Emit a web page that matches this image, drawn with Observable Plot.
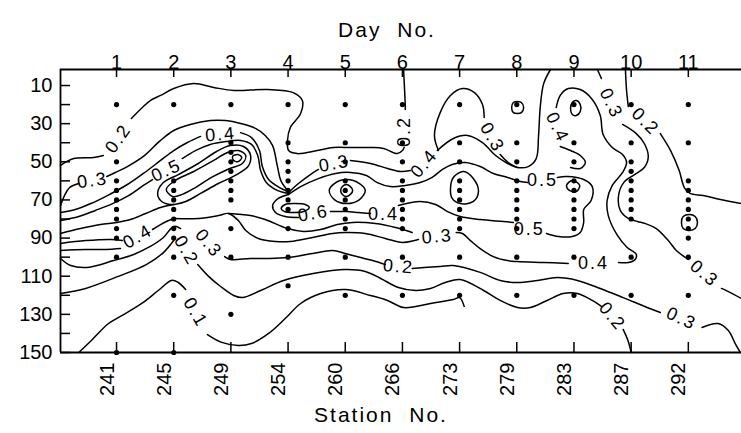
<!DOCTYPE html>
<html><head><meta charset="utf-8">
<script src="https://cdn.jsdelivr.net/npm/d3@7"></script>
<script src="https://cdn.jsdelivr.net/npm/@observablehq/plot@0.6"></script>
<style>
body{margin:0;background:#fff;}
svg text{font-family:"Liberation Sans",Arial,sans-serif;}
</style></head><body><div id="chart"></div>
<script>
// ---------- data ----------
const stations = [241,245,249,254,260,266,273,279,283,287,292];
const days = [1,2,3,4,5,6,7,8,9,10,11];
const depthLabels = [10,30,50,70,90,110,130,150];
const depthTicks = [10,20,30,40,50,60,70,80,90,100,110,120,130,140,150];
const xDomain = [-0.98, 10.93];
const yDomain = [1.6, 150];
// sample depths (m) at each station
const sampleDepths = [
  [20,50,60,65,70,75,80,85,90,100,150],
  [20,60,65,70,75,80,85,90,100,120,150],
  [20,40,45,50,55,60,65,70,85,100,130],
  [20,40,50,55,60,65,70,75,85,100,115],
  [20,40,50,60,65,70,75,80,85,100,120],
  [20,40,50,60,65,70,75,80,85,100,120],
  [20,40,50,60,65,70,75,80,85,100,120],
  [20,40,50,60,65,70,75,80,85,100,120],
  [20,40,50,60,65,70,75,80,85,100,120],
  [20,40,50,55,60,65,70,75,80,100,120],
  [20,40,60,65,70,75,80,85,90,100,120]
];
// contour line pieces: [station index, depth]
const c02topA = [[-0.98,51.9],[-0.75,48.3],[-0.40,47.7],[-0.23,46.7]];
const c02topB = [[0.26,27.3],[0.45,21.5],[0.59,17.9],[0.77,15.2],[1.0,11.6],[1.35,9],[1.70,11],[2.05,12.6],[2.64,12.1],[3.09,13.7],[3.25,17.9],[3.22,24.7],[3.04,32],[2.99,38.8],[3.01,44.1],[3.16,45.7],[3.51,44.1],[3.79,42.5],[4.09,42.5],[4.44,42.5],[4.67,43],[4.91,45.7],[5.00,44.1],[5.03,42.5]];
const c02topC = [[5.05,22.6],[5.05,21],[5.02,1.6]];
const c03A = [[-0.98,72.9],[-0.91,67.7],[-0.82,63.5],[-0.66,61.4]];
const c03B = [[-0.17,57.7],[-0.02,55.6],[0.19,52.5],[0.47,47.2],[0.77,38.8],[1.0,33.6],[1.29,30.4],[1.64,28.4],[1.91,28.4],[2.17,29.9],[2.43,32.5],[2.60,36.2],[2.73,41.5],[2.81,51.9],[2.88,60.3],[3.01,65.6]];
const c04A = [[-0.98,76.6],[-0.72,75],[-0.45,71.9],[-0.16,67.7],[0.19,61.9],[0.47,56.1],[0.77,49.3],[1.0,44.1],[1.24,39.9],[1.47,36.7]];
const c04B = [[2.17,34.7],[2.36,37.3],[2.50,44.1],[2.55,52.5],[2.66,59.3],[2.85,63.5],[3.01,65.6]];
const c05A = [[-0.98,80.8],[-0.66,78.7],[-0.37,75.5],[-0.07,71.9],[0.21,67.7],[0.47,62.4],[0.63,59.3]];
const c05B = [[1.15,48.3],[1.38,44.1],[1.64,40.9],[1.91,39.4],[2.17,38.8],[2.36,40.9],[2.47,46.7],[2.52,54.6],[2.62,60.9],[2.81,65],[3.01,66.6]];
const cB = [[-0.98,87.6],[-0.63,85],[-0.28,82.9],[0,81.8],[0.24,80.3],[0.51,77.1],[0.77,74],[1.0,72.4]];
const cAa = [[-0.98,92.8],[-0.54,91.3],[-0.10,90.7],[0.10,91.3]];
const cAb = [[0.63,85.5],[0.77,82.9],[0.91,80.8],[1.0,79.7]];
const cC = [[-0.98,96.5],[-0.54,96],[-0.19,96],[0.07,95.5]];
const c03lowA = [[-0.98,100.7],[-0.80,104.4],[-0.51,105.4],[-0.05,101.8],[0.30,98.6],[0.59,94.4],[0.82,89.7],[1.0,83.9],[1.12,85]];
const c03lowB = [[1.89,99.7],[1.99,101.2],[2.34,100.7],[2.64,100.7],[2.99,100.2],[3.43,98.1],[3.78,96.5],[4.0,98.1],[4.27,100.2],[4.48,101.8],[4.70,103.9]];
const c03lowC = [[5.17,105.9],[5.66,104.9],[5.89,104.4],[6.36,108],[6.71,112.2],[7.01,113.3],[7.36,112.2],[7.71,110.7],[8.06,112.2],[8.46,116.4],[8.86,121.2],[9.28,126.4],[9.51,129]];
const c03lowD = [[10.24,136.9],[10.52,134.8],[10.70,138.5],[10.82,145.3],[10.91,150]];
const c02lowA = [[-0.98,119.1],[-0.54,116.4],[0.03,110.1],[0.52,103.9],[0.82,97.6],[1.0,91.3]];
const c02lowB = [[1.42,103.9],[1.61,110.1],[1.82,115.4],[2.05,120.1],[2.20,121.2],[2.52,117.5],[2.92,112.2],[3.44,108.6],[4.0,106.5],[4.35,107.5],[4.62,111.2],[4.93,115.9],[5.23,117.5],[5.49,116.4],[5.75,113.3],[6.01,111.7],[6.42,117.5],[6.71,122.7],[7.01,126.4],[7.24,126.4],[7.53,122.7],[7.81,119.1],[8.06,119.1],[8.32,122.7],[8.48,125.8]];
const c02lowC = [[8.86,137.9],[8.95,144.2],[9.0,150]];
const r1A = [[1.0,79.7],[1.43,79.7],[1.78,78.2],[1.96,77.1],[2.13,80.8],[2.26,86],[2.48,90.2],[2.78,91.8],[3.04,91.8],[3.43,89.7],[3.78,87.6],[4.0,87.1],[4.35,87.6],[4.70,90.2],[5.0,92.3],[5.28,90.7]];
const r1B = [[5.94,87.1],[6.05,87.6],[6.19,91.3],[6.36,95.5],[6.59,99.7],[6.84,101.8],[7.01,102.3],[7.47,102.8],[7.90,103.3]];
const r1C = [[8.78,102.8],[8.95,102.8],[9.07,101.2],[9.09,98.6],[8.93,94.9],[8.76,88.6],[8.60,78.2],[8.58,70.3],[8.67,62.4],[8.85,55.6],[8.92,50.4],[8.85,46.2],[8.67,42.5],[8.51,35.7],[8.46,25.7],[8.32,17.3],[8.11,12.1],[7.90,11.6],[7.76,15.2],[7.69,21.5]];
const r1D = [[7.76,42],[7.94,44.1],[8.11,46.7],[8.20,50.4],[8.11,53.5],[7.94,53]];
const c03rA = [[8.41,1.6],[8.48,6.3]];
const c03rB = [[8.85,30.4],[9.09,35.2],[9.23,40.4],[9.30,47.2],[9.23,53],[9.06,56.7],[8.87,60.9],[8.78,67.7],[8.81,75.5],[8.95,79.7],[9.11,81.3],[9.25,82.4],[9.44,85],[9.65,91.3],[9.79,96.5],[10.0,101.2]];
const c03rC = [[10.58,116.4],[10.77,119.1],[10.93,121.7]];
const c02rA = [[8.90,1.6],[8.92,12.6],[8.95,21]];
const c02rB = [[9.51,35.2],[9.69,44.1],[9.84,54.6],[9.93,63.5],[10.03,66.6],[10.26,67.7],[10.56,69.8],[10.93,71.9]];
const f1A = [[3.01,66.1],[3.16,61.9],[3.39,56.7],[3.53,54]];
const f1B = [[4.09,49.3],[4.44,50.9],[4.74,53.5],[4.97,55.1],[5.14,54.6]];
const f1C = [[5.61,44.1],[5.89,37.8],[6.14,36.2],[6.40,39.9],[6.63,46.7],[6.84,50.9],[7.01,53],[7.20,52.5],[7.34,48.3],[7.38,36.7],[7.41,21.5],[7.47,9],[7.59,1.6]];
const u1A = [[5.63,44.1],[5.56,36.2],[5.66,24.2],[5.84,15.2],[6.05,11.6],[6.26,13.7],[6.40,20],[6.43,26.8]];
const u1B = [[6.71,46.2],[6.85,50.4],[7.01,53]];
const m1A = [[3.01,67.1],[3.22,63],[3.53,58.8],[3.83,56.1],[4.09,55.6],[4.37,57.2],[4.56,60.9],[4.79,63],[5.05,62.4],[5.31,60.9],[5.52,58.2],[5.70,54],[5.87,51.4],[6.10,50.4],[6.36,52.5],[6.59,56.1],[6.84,58.2],[7.06,60.3],[7.19,60.9]];
const m1B = [[7.71,58.2],[7.88,57.7],[8.17,59.3],[8.32,63],[8.30,70.3],[8.17,75],[8.17,81.8],[8.11,87.1],[7.97,89.2],[7.73,89.2],[7.52,87.6]];
const m1C = [[6.94,81.8],[6.77,81.3],[6.36,80.3],[6.01,78.7],[5.79,76.1],[5.58,72.4],[5.31,70.8],[4.93,72.9]];
const m1D = [[4.44,77.1],[4.23,76.6],[4.02,76.1],[3.74,76.1]];
const m1E = [[3.18,79.2],[2.95,78.7],[2.78,76.6],[2.73,72.9],[2.83,69.2],[3.01,67.1]];
const l29 = [[1.96,77.1],[2.34,78.2],[2.60,80.3],[2.99,85],[3.27,86.5],[3.57,85.5],[3.86,82.9],[4.13,81.8],[4.53,82.4],[4.88,84.5],[5.17,87.1]];
const r4A = [[-0.66,150],[-0.44,143.7],[-0.14,134.8],[0.16,129.5],[0.44,124.3],[0.73,117.5],[0.96,112.2],[1.08,113.3],[1.21,117]];
const r4B = [[1.59,140.6],[1.84,144.7],[2.13,146.3],[2.36,145.3],[2.66,140],[2.95,132.2],[3.22,124.3],[3.57,119.1],[4.0,117],[4.44,120.1],[4.74,122.7],[5.02,126.4],[5.49,124.3],[5.89,122.2],[6.0,121.2],[6.08,125.8]];
// closed contour loops
const loopC = [[0.72,66.1],[0.82,60.9],[1.08,56.7],[1.43,50.9],[1.75,44.6],[1.99,41.5],[2.22,42],[2.34,46.2],[2.31,52],[2.10,56.7],[1.78,61.4],[1.47,66.6],[1.21,70.8],[0.94,72.4],[0.77,70.3]];
const loopB = [[0.87,64.5],[1.0,60.3],[1.35,55.1],[1.70,49.3],[1.94,45.1],[2.13,44.1],[2.26,46.7],[2.20,50.9],[1.98,53.5],[1.66,58.2],[1.38,63.5],[1.15,67.1],[0.98,68.2]];
const loopA = [[2.03,47.2],[2.12,46.2],[2.19,47.7],[2.13,49.8],[2.05,49.3]];
const loop254 = [[2.88,74.5],[2.95,72.4],[3.13,71.9],[3.30,72.4],[3.37,74],[3.27,76.1],[3.08,76.6],[2.94,76.1]];
const loop260 = [[3.72,65],[3.81,61.4],[4.02,59.3],[4.25,61.4],[4.35,65],[4.25,69.8],[4.02,71.9],[3.81,69.8]];
const ring260 = [[3.92,65],[3.95,63],[4.02,61.9],[4.09,63],[4.13,65],[4.09,67.1],[4.02,68.2],[3.95,67.1]];
const loop273 = [[5.84,64.5],[5.89,58.2],[6.07,55.1],[6.24,58.8],[6.33,65.6],[6.24,70.8],[6.01,71.9],[5.87,69.2]];
const loop283 = [[7.87,62.4],[7.97,59.8],[8.10,62.4],[8.04,65.6],[7.92,65]];
const ring279 = [[6.91,21.5],[6.94,18.9],[7.01,18.4],[7.08,18.9],[7.12,21.5],[7.08,24.2],[7.01,24.7],[6.94,24.2]];
const oval283 = [[7.94,22.1],[7.97,18.9],[8.04,17.9],[8.11,20],[8.11,23.7],[8.04,25.7],[7.97,25.2]];
const ring292 = [[9.88,81.8],[9.91,78.7],[10.02,77.6],[10.12,78.7],[10.16,81.8],[10.12,85],[10.02,86],[9.91,85]];
// contour value labels
const contourLabels = [
  {text:"0.2", station:0.03, depth:37.8, angle:-55},
  {text:"0.2", station:5.03, depth:34.1, angle:-90},
  {text:"0.3", station:-0.42, depth:59.8, angle:-8},
  {text:"0.4", station:1.82, depth:35.7, angle:-5},
  {text:"0.5", station:0.87, depth:54.6, angle:-25},
  {text:"0.4", station:0.37, depth:89.2, angle:-30},
  {text:"0.3", station:1.61, depth:92.8, angle:50},
  {text:"0.2", station:1.22, depth:96.5, angle:60},
  {text:"0.1", station:1.38, depth:129, angle:60},
  {text:"0.2", station:4.93, depth:104.9, angle:5},
  {text:"0.3", station:9.88, depth:132.2, angle:25},
  {text:"0.2", station:8.67, depth:131.1, angle:50},
  {text:"0.3", station:5.61, depth:89.2, angle:-5},
  {text:"0.4", station:8.34, depth:103.3, angle:0},
  {text:"0.4", station:7.71, depth:32, angle:65},
  {text:"0.3", station:8.65, depth:19.4, angle:65},
  {text:"0.3", station:10.28, depth:108.6, angle:40},
  {text:"0.2", station:9.25, depth:28.9, angle:45},
  {text:"0.3", station:3.81, depth:50.9, angle:-10},
  {text:"0.4", station:5.38, depth:50.9, angle:-50},
  {text:"0.3", station:6.57, depth:37.3, angle:60},
  {text:"0.5", station:7.45, depth:59.8, angle:0},
  {text:"0.5", station:7.22, depth:85.5, angle:0},
  {text:"0.4", station:4.67, depth:77.6, angle:0},
  {text:"0.6", station:3.44, depth:77.1, angle:-10}
];

// ---------- build rows ----------
const openPieces = [c02topA,c02topB,c02topC,c03A,c03B,c04A,c04B,c05A,c05B,cB,cAa,cAb,cC,
  c03lowA,c03lowB,c03lowC,c03lowD,c02lowA,c02lowB,c02lowC,r1A,r1B,r1C,r1D,c03rA,c03rB,c03rC,
  c02rA,c02rB,f1A,f1B,f1C,u1A,u1B,m1A,m1B,m1C,m1D,m1E,l29,r4A,r4B];
const closedPieces = [loopC,loopB,loopA,loop254,loop260,ring260,loop273,loop283,ring279,oval283,ring292];
const toRows = pieces => pieces.flatMap((p, id) => p.map(([s, d]) => ({id, s, d})));
const openRows = toRows(openPieces);
const closedRows = toRows(closedPieces);
const sampleRows = sampleDepths.flatMap((ds, i) => ds.map(d => ({s: i, d})));
const stationIdx = stations.map((_, i) => i);

const chart = Plot.plot({
  width: 741, height: 433,
  marginLeft: 60, marginRight: 0, marginTop: 69, marginBottom: 81,
  x: {domain: xDomain, axis: null},
  y: {domain: yDomain, reverse: true, axis: null},
  style: {fontFamily: "'Liberation Sans', Arial, sans-serif", background: "white", color: "black"},
  marks: [
    Plot.ruleY(yDomain, {stroke: "black", strokeWidth: 1.8}),
    Plot.ruleX([xDomain[0]], {stroke: "black", strokeWidth: 1.8}),
    Plot.ruleX(stationIdx, {stroke: "black", strokeWidth: 1.5, insetBottom: 275}),
    Plot.ruleX(stationIdx, {stroke: "black", strokeWidth: 1.5, insetTop: 273}),
    Plot.ruleY(depthTicks, {stroke: "black", strokeWidth: 1.5, insetRight: 671}),
    Plot.line(openRows, {x: "s", y: "d", z: "id", curve: "catmull-rom", stroke: "black", strokeWidth: 1.5}),
    Plot.line(closedRows, {x: "s", y: "d", z: "id", curve: "catmull-rom-closed", stroke: "black", strokeWidth: 1.5}),
    Plot.dot(sampleRows, {x: "s", y: "d", r: 2.6, fill: "black", stroke: "none"}),
    Plot.text(contourLabels, {x: "station", y: "depth", text: "text", rotate: "angle", fontSize: 18, fill: "black"}),
    Plot.text(depthLabels, {y: d => d, frameAnchor: "left", dx: -8, textAnchor: "end", fontSize: 20, fill: "black"}),
    Plot.text(stationIdx, {x: d => d, text: i => String(days[i]), frameAnchor: "top", dy: -15, fontSize: 20, fill: "black"}),
    Plot.text(stationIdx, {x: d => d, text: i => String(stations[i]), frameAnchor: "bottom", dy: 10, dx: -3, rotate: -90, textAnchor: "end", fontSize: 20, fill: "black"}),
    Plot.text(["Day No."], {frameAnchor: "top", dy: -47, dx: -14, fontSize: 21, fill: "black"}),
    Plot.text(["Station No."], {frameAnchor: "bottom", dy: 69, dx: -20, fontSize: 21, fill: "black"})
  ]
});
d3.select(chart).selectAll("text").each(function() {
  const t = this.textContent;
  if (t === "Day No." || t === "Station No.") { this.setAttribute("letter-spacing", "2"); this.setAttribute("word-spacing", "8"); }
  else if (/^0\.\d$/.test(t)) this.setAttribute("letter-spacing", "2");
});
document.getElementById("chart").append(chart);
</script>
</body></html>
